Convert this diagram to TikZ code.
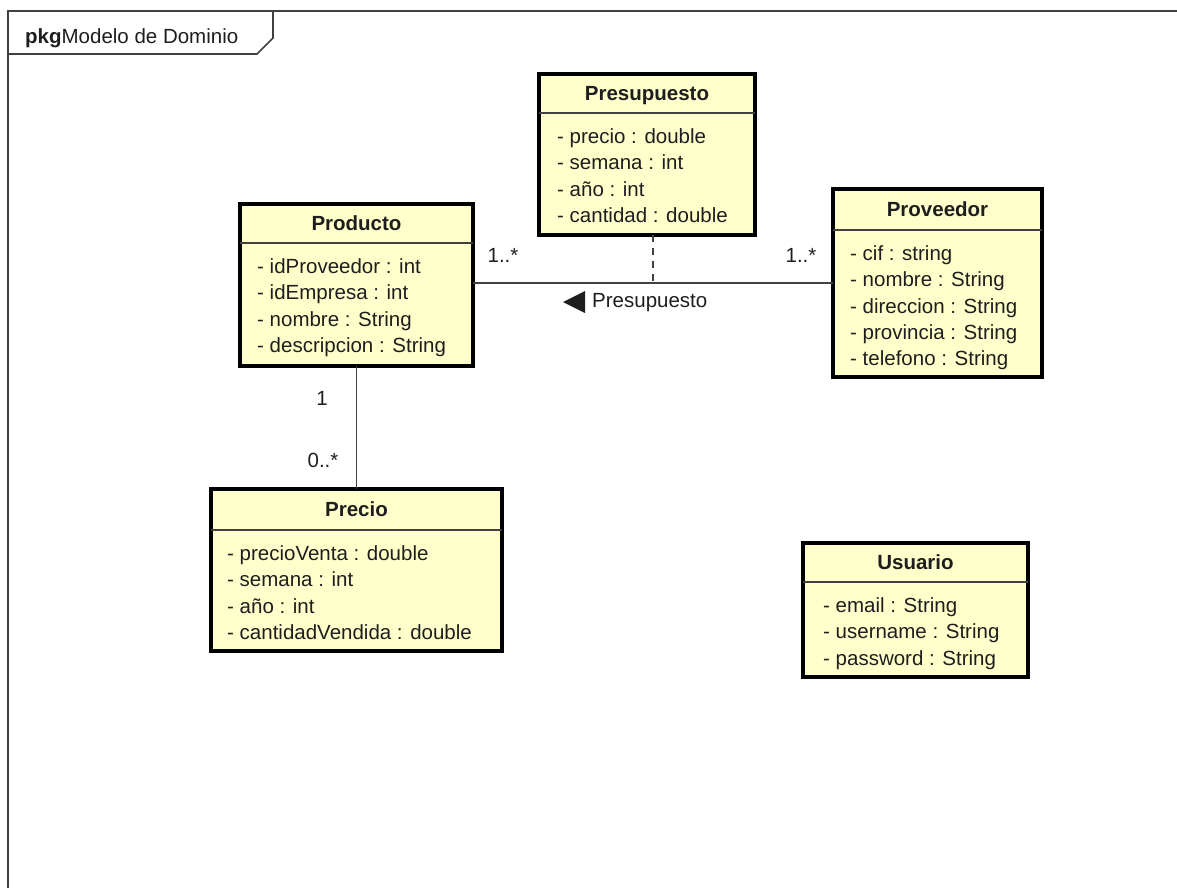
\documentclass[tikz,border=0pt]{standalone}
\usepackage{fontspec}
\setmainfont{Liberation Sans}
\usetikzlibrary{calc}

\definecolor{classfill}{RGB}{255,255,204}
\definecolor{ink}{RGB}{30,30,30}
\definecolor{linegray}{RGB}{64,64,64}

\tikzset{
  classbox/.style={draw=black, fill=classfill, line width=3.4pt, outer sep=0pt, inner sep=0pt},
  divider/.style={draw=linegray, line width=1.5pt},
  classtitle/.style={inner sep=0pt, text=ink, font=\fontsize{20.5}{24}\selectfont\bfseries},
  attrs/.style={inner sep=0pt, align=left, text=ink, font=\fontsize{20.5}{26.3}\selectfont},
  plainlabel/.style={inner sep=0pt, text=ink, font=\fontsize{20.5}{24}\selectfont},
  pkgframe/.style={draw=linegray, line width=1.6pt},
  assocline/.style={draw=linegray, line width=1.6pt},
  assocdash/.style={draw=linegray, line width=1.8pt, dash pattern=on 7pt off 6pt},
}

% #1 name, #2 left, #3 top, #4 width, #5 height, #6 header height,
% #7 title, #8 attribute lines, #9 attribute indent
\newcommand\umlclass[9]{%
  \node[classbox, minimum width=#4pt, minimum height=#5pt, anchor=north west] (#1) at (#2,#3) {};
  \draw[divider] (#1.north west) ++(0,#6) -- ++(#4,0);
  \path (#1.north) ++(0,#6/2+7) node[classtitle, anchor=base] (#1-title) {#7};
  \path (#1.north west) ++(#9,#6+12) node[attrs, anchor=north west] (#1-attrs) {\strut #8};
}

\begin{document}
\begin{tikzpicture}[x=1pt, y=-1pt]
  \useasboundingbox (0,0) rectangle (1177,887);

  % package frame and its name tab
  \draw[pkgframe] (1185,11) -- (8,11) -- (8,895);
  \draw[pkgframe] (8,54) -- (257,54) -- (273,38) -- (273,11);
  \node[plainlabel, anchor=base west] (pkgname) at (25,43) {\textbf{pkg}Modelo de Dominio};

  % classes
  \umlclass{presupuesto}{539}{74}{216}{161}{39}{Presupuesto}
    {- precio : double\\- semana : int\\- año : int\\- cantidad : double}{18}
  \umlclass{producto}{240}{204}{233}{162}{39}{Producto}
    {- idProveedor : int\\- idEmpresa : int\\- nombre : String\\- descripcion : String}{17}
  \umlclass{proveedor}{833}{189}{209}{188}{41}{Proveedor}
    {- cif : string\\- nombre : String\\- direccion : String\\- provincia : String\\- telefono : String}{17}
  \umlclass{precio}{211}{489}{291}{162}{41}{Precio}
    {- precioVenta : double\\- semana : int\\- año : int\\- cantidadVendida : double}{16}
  \umlclass{usuario}{803}{543}{225}{134}{39}{Usuario}
    {- email : String\\- username : String\\- password : String}{20}

  % association Producto -- Proveedor with association class Presupuesto
  \draw[assocline] (producto.east |- proveedor.west) -- (proveedor.west)
    coordinate[pos=0.5] (amid);
  \draw[assocdash] (presupuesto.south -| amid) -- (amid);
  \node[plainlabel, anchor=base west] (alabel) at (592,307) {Presupuesto};
  \fill[ink] ([xshift=-7pt]alabel.west) ++(0,-11) -- ++(0,22) -- ++(-22,-11) -- cycle;
  \node[plainlabel, anchor=base] (m1) at (503,262) {1..*};
  \node[plainlabel, anchor=base] (m2) at (801,262) {1..*};

  % association Producto -- Precio
  \draw[assocline] (producto.south) -- (precio.north -| producto.south);
  \node[plainlabel, anchor=base] (m3) at (322,405) {1};
  \node[plainlabel, anchor=base] (m4) at (323,467) {0..*};
\end{tikzpicture}
\end{document}
